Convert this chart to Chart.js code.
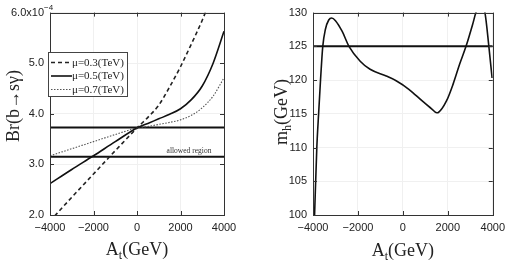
<!DOCTYPE html>
<html>
<head>
<meta charset="utf-8">
<script src="https://cdn.jsdelivr.net/npm/chart.js@4.4.1/dist/chart.umd.min.js"></script>
<style>
  body { margin: 0; background: #fff; }
  #wrap { position: relative; width: 511px; height: 268px; }
  canvas { position: absolute; top: 0; }
</style>
</head>
<body>
<div id="wrap">
  <canvas id="brChart" width="255" height="268" style="left:0"></canvas>
  <canvas id="mhChart" width="256" height="268" style="left:255px"></canvas>
</div>
<script>
// --- données ---
const atGrid = [-4000, -3000, -2000, -1000, 0, 500, 1000, 1500, 2000, 2500, 3000, 3500, 4000];
const brMu03 = [1.88, 2.35, 2.81, 3.27, 3.72, 3.93, 4.17, 4.53, 4.93, 5.38, 5.85, 6.4, 7.0];
const brMu05 = [2.62, 2.90, 3.17, 3.45, 3.72, 3.81, 3.90, 3.99, 4.10, 4.28, 4.55, 5.00, 5.63];
const brMu07 = [3.17, 3.31, 3.45, 3.59, 3.72, 3.75, 3.79, 3.83, 3.88, 3.97, 4.12, 4.35, 4.71];
const brUpper = 3.73;
const brLower = 3.15;
const seriesLabels = ['\u03bc=0.3(TeV)', '\u03bc=0.5(TeV)', '\u03bc=0.7(TeV)'];

const atMh = [-3930, -3830, -3750, -3665, -3565, -3450, -3300, -3170, -3000, -2700, -2400, -1900, -1460,
  -740, -300, 280, 860, 1290, 1509, 1580, 1940, 2235, 2520, 2810, 3100, 3250, 3450, 3652, 3826, 3970];
const mhValues = [100, 110, 115, 120, 125, 127.5, 128.9, 129.2, 128.8, 127.2, 125, 122.8, 121.6,
  120.6, 119.9, 118.6, 116.9, 115.7, 115.15, 115.2, 116.9, 119.4, 122.3, 125, 128.2, 130, 131.5, 130, 125, 120.3];
const mhLine = 125;

const xTicks = [-4000, -2000, 0, 2000, 4000];
const brTicks = [2, 3, 4, 5, 6];
const mhTicks = [100, 105, 110, 115, 120, 125, 130];

const sans = 'Liberation Sans, Arial, sans-serif';
const serif = 'Liberation Serif, Times New Roman, serif';
const ink = '#222';

function pts(xs, ys) { return xs.map((x, i) => ({ x: x, y: ys[i] })); }
function fmtMinus(v) { return v < 0 ? '\u2212' + Math.abs(v) : String(v); }

// texte avec indice / exposant
function drawRich(ctx, parts, cx, cy, rotate) {
  ctx.save();
  ctx.translate(cx, cy);
  if (rotate) ctx.rotate(-Math.PI / 2);
  ctx.fillStyle = ink;
  ctx.textBaseline = 'alphabetic';
  ctx.textAlign = 'left';
  let w = 0;
  parts.forEach(p => { ctx.font = (p.sub ? 12 : 18) + 'px ' + serif; w += ctx.measureText(p.t).width; });
  let x = -w / 2;
  parts.forEach(p => {
    ctx.font = (p.sub ? 12 : 18) + 'px ' + serif;
    ctx.fillText(p.t, x, p.sub ? 4 : 0);
    x += ctx.measureText(p.t).width;
  });
  ctx.restore();
}

// cadre fermé + petites graduations vers l'intérieur + titres
const framePlugin = {
  id: 'frame',
  afterDraw(chart, args, opts) {
    const { ctx, chartArea: a, scales } = chart;
    ctx.save();
    ctx.strokeStyle = '#333';
    ctx.lineWidth = 1;
    ctx.strokeRect(Math.round(a.left) + 0.5, Math.round(a.top) + 0.5, Math.round(a.right - a.left), Math.round(a.bottom - a.top));
    const tl = 4;
    ctx.beginPath();
    scales.x.ticks.forEach(t => {
      const px = Math.round(scales.x.getPixelForValue(t.value)) + 0.5;
      ctx.moveTo(px, a.bottom); ctx.lineTo(px, a.bottom - tl);
      ctx.moveTo(px, a.top); ctx.lineTo(px, a.top + tl);
    });
    scales.y.ticks.forEach(t => {
      const py = Math.round(scales.y.getPixelForValue(t.value)) + 0.5;
      ctx.moveTo(a.left, py); ctx.lineTo(a.left + tl, py);
      ctx.moveTo(a.right, py); ctx.lineTo(a.right - tl, py);
    });
    ctx.stroke();
    ctx.restore();
    drawRich(ctx, opts.xTitle, (a.left + a.right) / 2, opts.xTitleY, false);
    drawRich(ctx, opts.yTitle, opts.yTitleX, opts.yTitleY, true);
  }
};

function baseScales(yMin, yMax, yStep, yTicks, yWidth, yFmt) {
  return {
    x: {
      type: 'linear', min: -4000, max: 4000,
      afterBuildTicks: s => { s.ticks = xTicks.map(v => ({ value: v })); },
      ticks: { callback: fmtMinus, color: ink, font: { family: sans, size: 11 }, padding: 6, maxRotation: 0 },
      grid: { color: '#f0f0f0', drawTicks: false },
      border: { display: false },
      afterFit: s => { s.height = 53; }
    },
    y: {
      type: 'linear', min: yMin, max: yMax,
      afterBuildTicks: s => { s.ticks = yTicks.map(v => ({ value: v })); },
      ticks: { callback: yFmt, color: ink, font: { family: sans, size: 11 }, padding: 6 },
      grid: { color: '#f0f0f0', drawTicks: false },
      border: { display: false },
      afterFit: s => { s.width = yWidth; }
    }
  };
}

// Graphique de gauche : Br(b -> s gamma)
const brCtx = document.getElementById('brChart').getContext('2d');
new Chart(brCtx, {
  type: 'line',
  data: {
    datasets: [
      { label: seriesLabels[0], data: pts(atGrid, brMu03), borderColor: '#222', borderWidth: 1.6, borderDash: [4, 3], cubicInterpolationMode: 'monotone' },
      { label: seriesLabels[1], data: pts(atGrid, brMu05), borderColor: '#111', borderWidth: 1.6, cubicInterpolationMode: 'monotone' },
      { label: seriesLabels[2], data: pts(atGrid, brMu07), borderColor: '#555', borderWidth: 1.1, borderDash: [1.5, 1.5], cubicInterpolationMode: 'monotone' },
      { label: 'upper', data: pts([-4000, 4000], [brUpper, brUpper]), borderColor: '#111', borderWidth: 2 },
      { label: 'lower', data: pts([-4000, 4000], [brLower, brLower]), borderColor: '#111', borderWidth: 2 }
    ]
  },
  options: {
    responsive: false, animation: false, devicePixelRatio: 1,
    elements: { point: { radius: 0 } },
    layout: { padding: { top: 10, right: 31, left: 0, bottom: 0 } },
    scales: baseScales(2, 6, 1, brTicks, 50, v => v === 6 ? '6.0x10' : v.toFixed(1)),
    plugins: {
      legend: { display: false }, tooltip: { enabled: false },
      frame: {
        xTitle: [{ t: 'A' }, { t: 't', sub: true }, { t: '(GeV)' }], xTitleY: 255,
        yTitle: [{ t: 'Br(b\u2192s\u03b3)' }], yTitleX: 19, yTitleY: 106
      }
    }
  },
  plugins: [framePlugin, {
    id: 'brExtras',
    afterDraw(chart) {
      const { ctx, chartArea: a, scales } = chart;
      ctx.save();
      // exposant de l'étiquette du haut
      ctx.fillStyle = ink;
      ctx.font = '8px ' + sans;
      ctx.textAlign = 'left';
      ctx.textBaseline = 'alphabetic';
      ctx.fillText('\u22124', 44, scales.y.getPixelForValue(6) - 3);
      // légende encadrée
      const bx = 48, by = 52, bw = 79, bh = 44;
      ctx.fillStyle = '#fff';
      ctx.fillRect(bx, by, bw, bh);
      ctx.strokeStyle = '#444';
      ctx.lineWidth = 1;
      ctx.strokeRect(bx + 0.5, by + 0.5, bw, bh);
      chart.data.datasets.slice(0, 3).forEach((ds, i) => {
        const y = by + 10.5 + i * 13.5;
        ctx.strokeStyle = ds.borderColor;
        ctx.lineWidth = ds.borderWidth;
        ctx.setLineDash(ds.borderDash || []);
        ctx.beginPath(); ctx.moveTo(51, y); ctx.lineTo(72, y); ctx.stroke();
        ctx.setLineDash([]);
        ctx.fillStyle = ink;
        ctx.font = '11px ' + serif;
        ctx.textBaseline = 'middle';
        ctx.fillText(ds.label, 72, y + 0.5);
      });
      // texte "allowed region"
      ctx.font = '7.5px ' + serif;
      ctx.fillStyle = '#333';
      ctx.textAlign = 'center';
      ctx.textBaseline = 'alphabetic';
      ctx.fillText('allowed region', 189, scales.y.getPixelForValue(brLower) - 4);
      ctx.restore();
    }
  }]
});

// Graphique de droite : m_h
const mhCtx = document.getElementById('mhChart').getContext('2d');
new Chart(mhCtx, {
  type: 'line',
  data: {
    datasets: [
      { label: 'mh', data: pts(atMh, mhValues), borderColor: '#111', borderWidth: 1.6, cubicInterpolationMode: 'monotone' },
      { label: '125', data: pts([-4000, 4000], [mhLine, mhLine]), borderColor: '#111', borderWidth: 2 }
    ]
  },
  options: {
    responsive: false, animation: false, devicePixelRatio: 1,
    elements: { point: { radius: 0 } },
    layout: { padding: { top: 11, right: 14, left: 0, bottom: 0 } },
    scales: baseScales(100, 130, 5, mhTicks, 58, v => String(v)),
    plugins: {
      legend: { display: false }, tooltip: { enabled: false },
      frame: {
        xTitle: [{ t: 'A' }, { t: 't', sub: true }, { t: '(GeV)' }], xTitleY: 256,
        yTitle: [{ t: 'm' }, { t: 'h', sub: true }, { t: '(GeV)' }], yTitleX: 32, yTitleY: 112
      }
    }
  },
  plugins: [framePlugin]
});
</script>
</body>
</html>
